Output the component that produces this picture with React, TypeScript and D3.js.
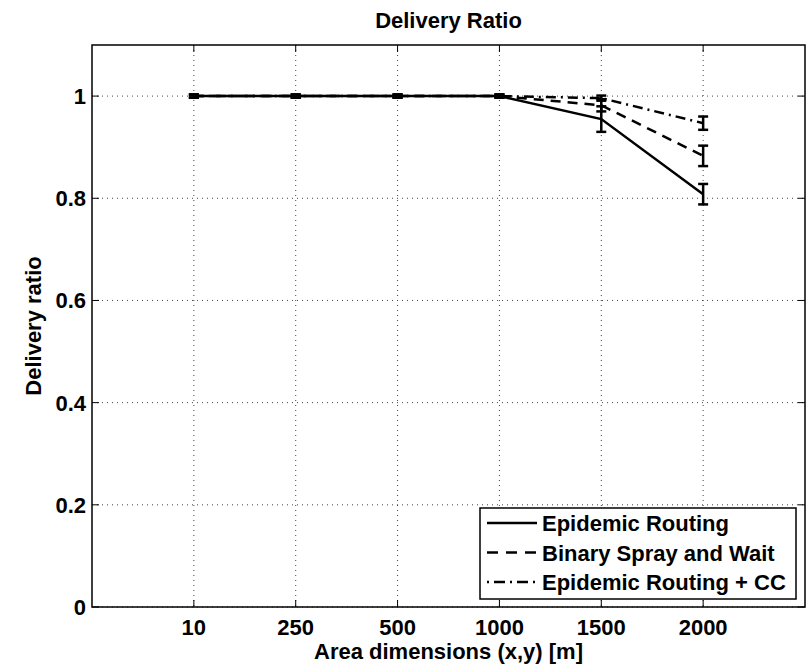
import React from "react";
import * as d3 from "d3";

const categories = ["10", "250", "500", "1000", "1500", "2000"];
const epidemic = [1, 1, 1, 1, 0.955, 0.808];
const epidemicErr = [0.003, 0.003, 0.003, 0.003, 0.025, 0.02];
const spray = [1, 1, 1, 1, 0.982, 0.883];
const sprayErr = [0.003, 0.003, 0.003, 0.003, 0.012, 0.02];
const cc = [1, 1, 1, 1, 0.996, 0.947];
const ccErr = [0.003, 0.003, 0.003, 0.003, 0.005, 0.013];
const yTicks = [0, 0.2, 0.4, 0.6, 0.8, 1];
const seriesNames = ["Epidemic Routing", "Binary Spray and Wait", "Epidemic Routing + CC"];

const W = 811, H = 668;
const L = 92, R = 805, T = 45, B = 607;
const FONT = "'Liberation Sans', Arial, sans-serif";

export default function App() {
  const x = d3.scaleLinear().domain([0, 7]).range([L, R]);
  const y = d3.scaleLinear().domain([0, 1.1]).range([B, T]);
  const line = d3.line<number>().x((_, i) => x(i + 1)).y((d) => y(d));

  const series = [
    { vals: epidemic, err: epidemicErr, dash: "none" },
    { vals: spray, err: sprayErr, dash: "10,7" },
    { vals: cc, err: ccErr, dash: "10,5,2,5" },
  ];

  return (
    <svg width={W} height={H} style={{ position: "absolute", left: 0, top: 0, background: "#fff" }} fontFamily={FONT}>
      <rect x={0} y={0} width={W} height={H} fill="#fff" />
      {/* grid */}
      {categories.map((c, i) => (
        <line key={"gx" + c} x1={x(i + 1)} x2={x(i + 1)} y1={T} y2={B} stroke="#444" strokeWidth={1} strokeDasharray="1,4" />
      ))}
      {yTicks.map((t) => (
        <line key={"gy" + t} x1={L} x2={R} y1={y(t)} y2={y(t)} stroke="#444" strokeWidth={1} strokeDasharray="1,4" />
      ))}
      {/* ticks */}
      {categories.map((c, i) => (
        <g key={"tx" + c}>
          <line x1={x(i + 1)} x2={x(i + 1)} y1={B} y2={B - 7} stroke="#000" strokeWidth={1} />
          <line x1={x(i + 1)} x2={x(i + 1)} y1={T} y2={T + 7} stroke="#000" strokeWidth={1} />
          <text x={x(i + 1)} y={635} textAnchor="middle" fontSize={22} fontWeight="bold">{c}</text>
        </g>
      ))}
      {yTicks.map((t) => (
        <g key={"ty" + t}>
          <line x1={L} x2={L + 7} y1={y(t)} y2={y(t)} stroke="#000" strokeWidth={1} />
          <line x1={R} x2={R - 7} y1={y(t)} y2={y(t)} stroke="#000" strokeWidth={1} />
          <text x={86} y={y(t) + 8} textAnchor="end" fontSize={22} fontWeight="bold">{t}</text>
        </g>
      ))}
      {/* series */}
      {series.map((s, k) => (
        <g key={"s" + k}>
          <path d={line(s.vals) || ""} fill="none" stroke="#000" strokeWidth={2.5} strokeDasharray={s.dash} />
          {s.vals.map((v, i) => {
            const cx = x(i + 1);
            const y1 = y(v + s.err[i]);
            const y2 = y(v - s.err[i]);
            return (
              <g key={i} stroke="#000" strokeWidth={2.5}>
                <line x1={cx} x2={cx} y1={y1} y2={y2} />
                <line x1={cx - 5} x2={cx + 5} y1={y1} y2={y1} />
                <line x1={cx - 5} x2={cx + 5} y1={y2} y2={y2} />
              </g>
            );
          })}
        </g>
      ))}
      {/* axes box */}
      <rect x={L} y={T} width={R - L} height={B - T} fill="none" stroke="#000" strokeWidth={1.5} />
      {/* title and labels */}
      <text x={(L + R) / 2} y={28} textAnchor="middle" fontSize={22} fontWeight="bold">Delivery Ratio</text>
      <text x={(L + R) / 2} y={659} textAnchor="middle" fontSize={22} fontWeight="bold">Area dimensions (x,y) [m]</text>
      <text transform={`translate(41,${(T + B) / 2}) rotate(-90)`} textAnchor="middle" fontSize={22} fontWeight="bold">Delivery ratio</text>
      {/* legend */}
      <rect x={480} y={508} width={316} height={91} fill="#fff" stroke="#000" strokeWidth={1.5} />
      {seriesNames.map((n, k) => {
        const cy = 523 + k * 29.5;
        return (
          <g key={"lg" + k}>
            <line x1={487} x2={537} y1={cy} y2={cy} stroke="#000" strokeWidth={2.5} strokeDasharray={series[k].dash === "none" ? "none" : k === 1 ? "11,8" : "2,5,11,5"} />
            <text x={542} y={cy + 8} fontSize={22} fontWeight="bold">{n}</text>
          </g>
        );
      })}
    </svg>
  );
}
